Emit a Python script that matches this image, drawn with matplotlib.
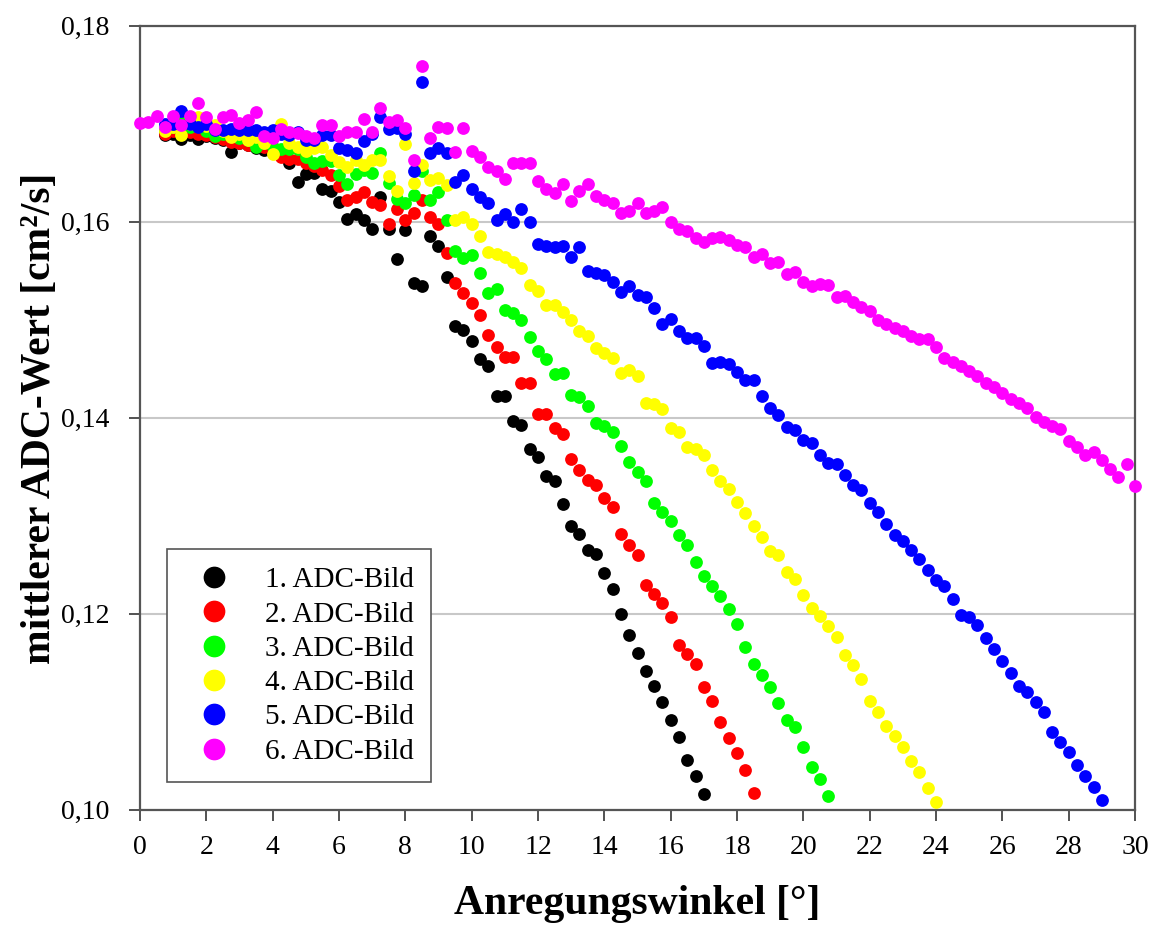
import numpy as np
import matplotlib
matplotlib.use("Agg")
import matplotlib.pyplot as plt
from matplotlib.ticker import FuncFormatter

plt.rcParams['font.family'] = ['Liberation Serif', 'DejaVu Serif']

angle_step = 0.25

start_1 = 0.75
adc_1 = [.1689, .1690, .1684, .1688, .1684, .1687, .1685, .1683, .1671, .1680,
         .1678, .1675, .1673, .1670, .1667, .1660, .1641, .1649, .1650, .1633,
         .1631, .1620, .1603, .1608, .1602, .1593, .1625, .1593, .1562, .1592,
         .1537, .1534, .1585, .1575, .1544, .1494, .1490, .1478, .1460, .1453,
         .1422, .1422, .1397, .1393, .1368, .1360, .1341, .1335, .1312, .1290,
         .1281, .1265, .1261, .1242, .1225, .1200, .1178, .1160, .1142, .1126,
         .1110, .1092, .1074, .1051, .1034, .1016]

start_2 = 0.75
adc_2 = [.1690, .1693, .1695, .1692, .1690, .1688, .1686, .1684, .1681, .1680,
         .1678, .1677, .1676, .1670, .1666, .1664, .1664, .1660, .1657, .1653,
         .1648, .1636, .1622, .1625, .1630, .1620, .1617, .1598, .1613, .1602,
         .1609, .1622, .1605, .1598, .1568, .1537, .1527, .1517, .1505, .1484,
         .1472, .1462, .1462, .1435, .1435, .1404, .1404, .1390, .1383, .1358,
         .1347, .1336, .1331, .1318, .1309, .1281, .1270, .1260, .1229, .1220,
         .1211, .1197, .1168, .1159, .1149, .1125, .1111, .1089, .1073, .1058,
         .1040, .1017]

start_3 = 0.75
adc_3 = [.1694, .1697, .1702, .1697, .1702, .1693, .1687, .1690, .1688, .1685,
         .1683, .1676, .1680, .1676, .1674, .1674, .1674, .1666, .1660, .1662,
         .1662, .1648, .1638, .1649, .1653, .1650, .1670, .1640, .1623, .1619,
         .1627, .1652, .1622, .1630, .1602, .1570, .1563, .1566, .1548, .1527,
         .1531, .1510, .1507, .1500, .1482, .1468, .1460, .1445, .1446, .1423,
         .1421, .1412, .1395, .1392, .1385, .1371, .1355, .1345, .1335, .1313,
         .1304, .1295, .1280, .1270, .1253, .1238, .1228, .1218, .1205, .1189,
         .1166, .1149, .1137, .1125, .1109, .1092, .1084, .1064, .1044, .1031,
         .1014]

start_4 = 0.75
adc_4 = [.1693, .1697, .1688, .1700, .1707, .1698, .1699, .1693, .1686, .1690,
         .1683, .1686, .1680, .1669, .1700, .1680, .1676, .1672, .1675, .1676,
         .1668, .1661, .1656, .1663, .1658, .1663, .1663, .1647, .1631, .1679,
         .1640, .1658, .1643, .1645, .1637, .1602, .1605, .1598, .1585, .1569,
         .1567, .1564, .1559, .1553, .1535, .1529, .1515, .1515, .1508, .1500,
         .1488, .1483, .1471, .1466, .1461, .1446, .1449, .1443, .1415, .1414,
         .1409, .1389, .1385, .1370, .1368, .1362, .1347, .1335, .1327, .1314,
         .1303, .1290, .1278, .1264, .1260, .1243, .1235, .1219, .1206, .1198,
         .1187, .1176, .1158, .1148, .1133, .1111, .1100, .1085, .1075, .1064,
         .1050, .1038, .1022, .1008]

start_5 = 0.75
adc_5 = [.1700, .1700, .1713, .1700, .1697, .1700, .1694, .1694, .1695, .1694,
         .1694, .1694, .1692, .1694, .1690, .1688, .1692, .1683, .1683, .1688,
         .1688, .1675, .1673, .1670, .1682, .1690, .1707, .1695, .1696, .1690,
         .1652, .1743, .1670, .1675, .1670, .1641, .1648, .1633, .1625, .1619,
         .1602, .1608, .1600, .1613, .1600, .1577, .1575, .1574, .1575, .1564,
         .1574, .1550, .1548, .1546, .1539, .1528, .1534, .1525, .1523, .1512,
         .1496, .1501, .1488, .1481, .1481, .1473, .1456, .1457, .1455, .1447,
         .1438, .1438, .1422, .1410, .1403, .1391, .1387, .1377, .1374, .1362,
         .1354, .1353, .1342, .1331, .1326, .1313, .1304, .1292, .1280, .1274,
         .1265, .1256, .1245, .1234, .1228, .1215, .1199, .1197, .1188, .1175,
         .1164, .1152, .1140, .1126, .1120, .1110, .1100, .1079, .1069, .1059,
         .1046, .1034, .1023, .1010]

start_6 = 0.0
adc_6 = [.1701, .1702, .1708, .1697, .1708, .1699, .1708, .1721, .1707, .1695,
         .1707, .1709, .1701, .1704, .1712, .1687, .1685, .1695, .1692, .1691,
         .1687, .1685, .1699, .1699, .1687, .1692, .1692, .1705, .1692, .1716,
         .1702, .1704, .1696, .1663, .1759, .1685, .1697, .1696, .1671, .1696,
         .1672, .1666, .1656, .1652, .1644, .1660, .1660, .1660, .1642, .1633,
         .1629, .1638, .1621, .1631, .1639, .1626, .1622, .1619, .1609, .1611,
         .1619, .1609, .1611, .1615, .1600, .1593, .1591, .1583, .1579, .1583,
         .1584, .1581, .1576, .1574, .1564, .1567, .1558, .1559, .1547, .1549,
         .1538, .1534, .1536, .1535, .1523, .1524, .1518, .1513, .1509, .1500,
         .1496, .1492, .1488, .1483, .1480, .1480, .1472, .1461, .1457, .1453,
         .1448, .1443, .1435, .1431, .1425, .1419, .1415, .1410, .1401, .1396,
         .1392, .1388, .1376, .1370, .1362, .1365, .1357, .1348, .1339, .1353,
         .1330]

labels = ["1. ADC-Bild", "2. ADC-Bild", "3. ADC-Bild",
          "4. ADC-Bild", "5. ADC-Bild", "6. ADC-Bild"]
colors = ["#000000", "#ff0000", "#00ff00", "#ffff00", "#0000ff", "#ff00ff"]
starts = [start_1, start_2, start_3, start_4, start_5, start_6]
series = [adc_1, adc_2, adc_3, adc_4, adc_5, adc_6]

fig = plt.figure(figsize=(11.5, 9.26), dpi=100)
ax = fig.add_axes([0.1217, 0.1256, 0.8653, 0.8466])

for lab, col, x0, y in zip(labels, colors, starts, series):
    x = x0 + angle_step * np.arange(len(y))
    ax.plot(x, y, "o", color=col, markersize=9.2, markeredgewidth=0,
            label=lab, clip_on=False, zorder=3)

ax.set_xlim(0, 30)
ax.set_ylim(0.10, 0.18)
ax.set_xticks(np.arange(0, 31, 2))
ax.set_yticks([0.10, 0.12, 0.14, 0.16, 0.18])
ax.yaxis.set_major_formatter(FuncFormatter(lambda v, p: f"{v:.2f}".replace(".", ",")))
ax.tick_params(axis="both", direction="out", length=8, width=1.3,
               color="#444444", labelsize=20)
ax.tick_params(axis="y", pad=14)
ax.tick_params(axis="x", pad=10)

ax.grid(axis="y", color="#c8c8c8", linewidth=1.5, zorder=0)
ax.set_axisbelow(True)
for s in ax.spines.values():
    s.set_color("#555555")
    s.set_linewidth(1.6)

fig.text(637 / 1150, 1 - 904 / 926, "Anregungswinkel [°]", fontsize=30,
         fontweight="bold", ha="center", va="center")
fig.text(40 / 1150, 1 - 418 / 926, "mittlerer ADC-Wert [cm²/s]", fontsize=30,
         fontweight="bold", ha="center", va="center", rotation=90)

leg = ax.legend(loc="lower left", bbox_to_anchor=(0.027, 0.035), borderaxespad=0,
                fontsize=21, markerscale=1.7, frameon=True, fancybox=False,
                edgecolor="#555555", framealpha=1, labelspacing=0.27,
                handletextpad=0.7, borderpad=0.6, handlelength=2.05)
leg.get_frame().set_linewidth(1.2)

fig.savefig("out.png", dpi=100)
